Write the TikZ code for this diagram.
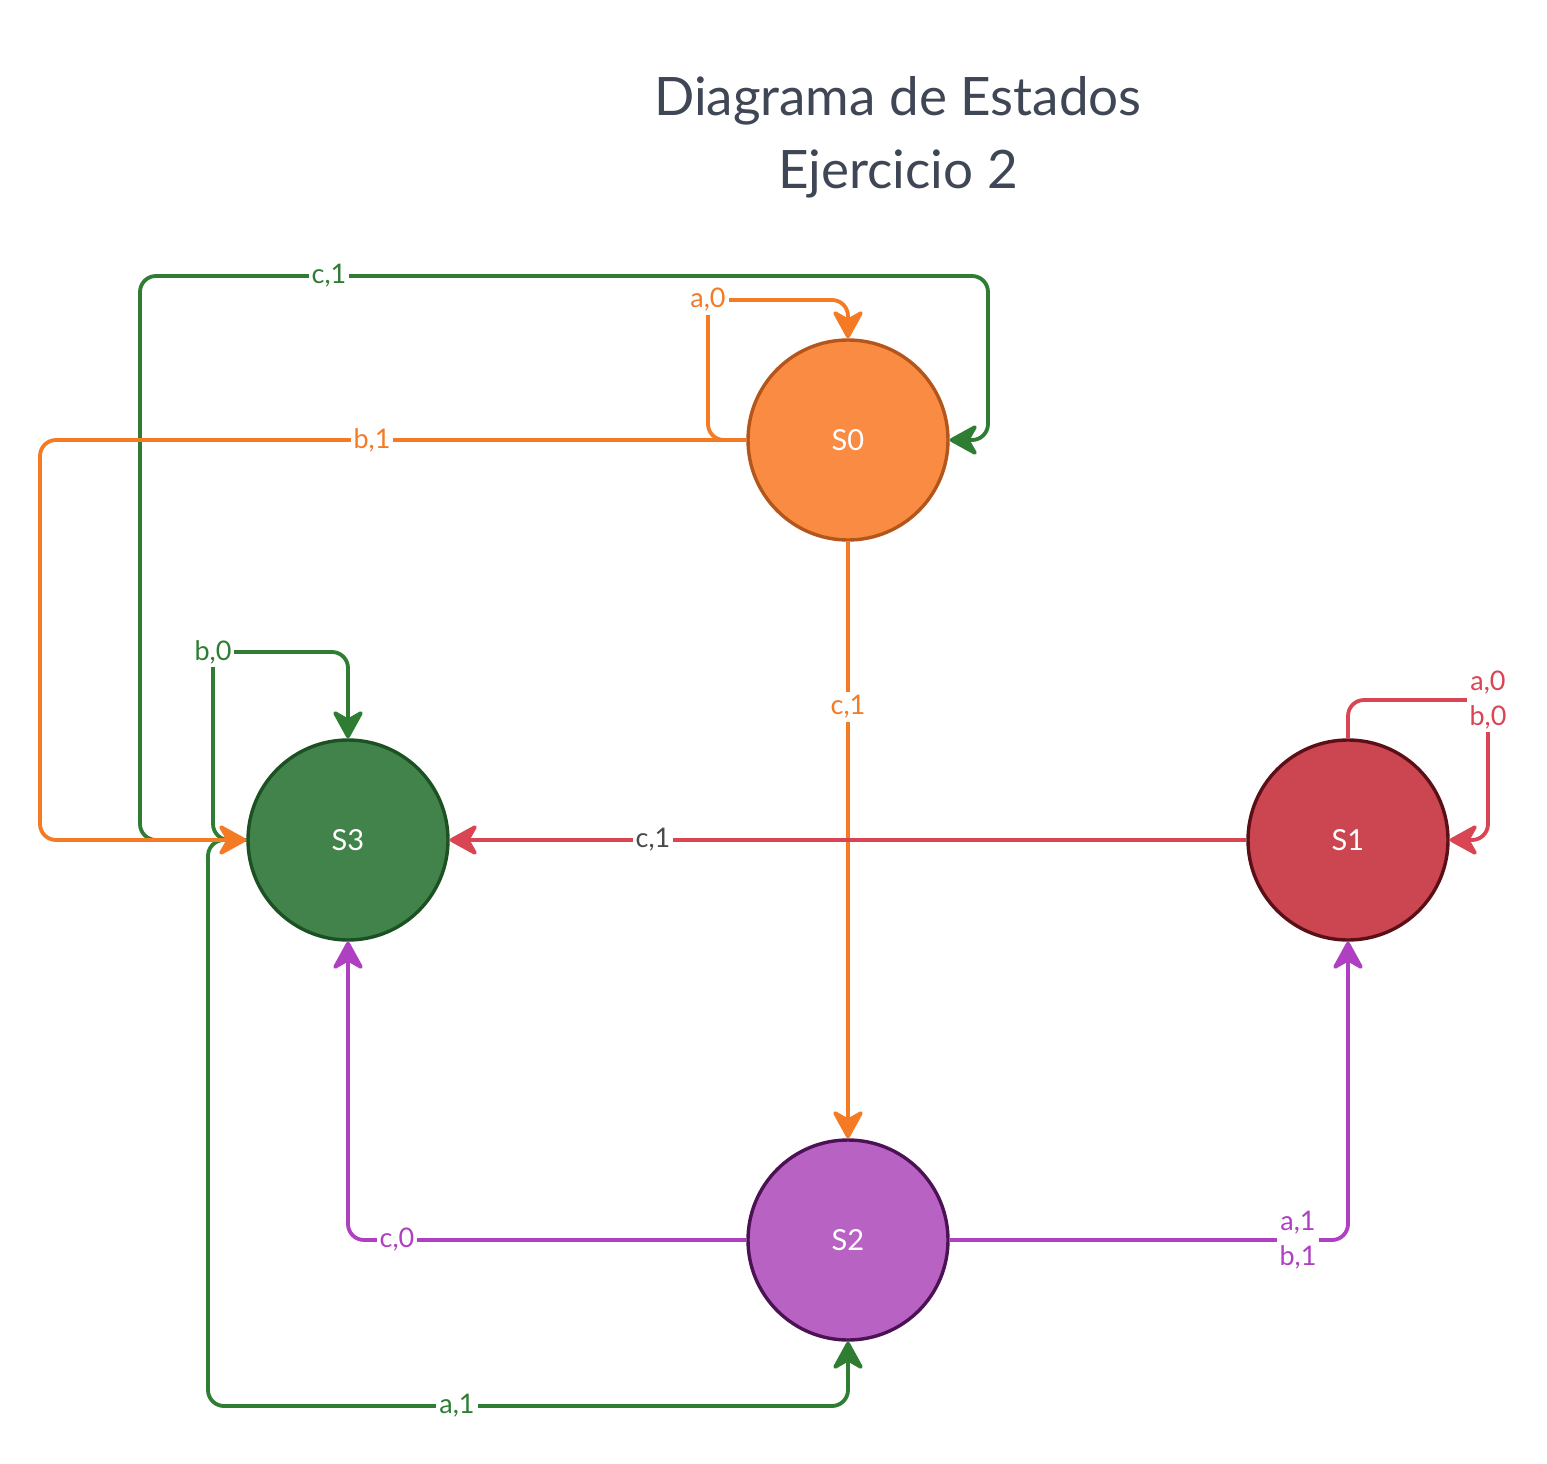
\documentclass[tikz,border=0pt]{standalone}
\usepackage{fontspec}
\setmainfont{Lato}
\usetikzlibrary{arrows.meta}
\definecolor{oline}{HTML}{F57A24}
\definecolor{ofill}{HTML}{F98B42}
\definecolor{odraw}{HTML}{B4561B}
\definecolor{gline}{HTML}{2E7D32}
\definecolor{gfill}{HTML}{42834B}
\definecolor{gdraw}{HTML}{1C5123}
\definecolor{rline}{HTML}{DA4553}
\definecolor{rfill}{HTML}{CB4650}
\definecolor{rdraw}{HTML}{5B1017}
\definecolor{pline}{HTML}{B040C2}
\definecolor{pfill}{HTML}{B862C4}
\definecolor{pdraw}{HTML}{4C1354}
\definecolor{titlec}{HTML}{3F4756}
\definecolor{graytxt}{HTML}{4A4A4A}
\begin{document}
\begin{tikzpicture}[x=1pt,y=-1pt,
  state/.style={circle, minimum size=200pt, inner sep=0pt, line width=3.4pt, text=white, font=\fontsize{29}{34}\selectfont},
  conn/.style={line width=3.8pt, rounded corners=16pt, -{Stealth[length=32pt,width=35pt,inset=10pt,line join=round]}},
  lbl/.style={fill=white, inner sep=3pt, font=\fontsize{27}{35}\selectfont, align=center}
]
\useasboundingbox (0,0) rectangle (1547,1464);
\fill[white] (0,0) rectangle (1547,1464);

\node[titlec, font=\fontsize{53}{73}\selectfont, align=center] (title) at (898,137) {Diagrama de Estados\\Ejercicio 2};

\node[state, fill=ofill, draw=odraw] (s0) at (848,440) {S0};
\node[state, fill=gfill, draw=gdraw] (s3) at (348,840) {S3};
\node[state, fill=rfill, draw=rdraw] (s1) at (1348,840) {S1};
\node[state, fill=pfill, draw=pdraw] (s2) at (848,1240) {S2};

% green connectors
\draw[conn, gline] (s3.west) -| (140,276) -| (988,440) -- (s0.east);
\node[lbl, text=gline] (l1) at (329,276) {c,1};
\draw[conn, gline] (s3.west) -| (213,652) -| (s3.north);
\node[lbl, text=gline] (l2) at (213,652) {b,0};
\draw[conn, gline] (s3.west) -| (208,1406) -| (s2.south);
\node[lbl, text=gline] (l3) at (457,1406) {a,1};

% orange connectors
\draw[conn, oline] (s0.west) -| (708,300) -| (s0.north);
\node[lbl, text=oline] (l4) at (708,300) {a,0};
\draw[conn, oline] (s0.west) -| (40,840) -- (s3.west);
\node[lbl, text=oline] (l5) at (372,440) {b,1};
\draw[conn, oline] (s0.south) -- (s2.north);
\node[lbl, text=oline] (l6) at (848,707) {c,1};

% red connectors
\draw[conn, rline] (s1.west) -- (s3.east);
\node[lbl, text=graytxt] (l7) at (653,840) {c,1};
\draw[conn, rline] (s1.north) |- (1488,700) |- (s1.east);
\node[lbl, text=rline] (l8) at (1488,700) {a,0\\b,0};

% purple connectors
\draw[conn, pline] (s2.west) -| (s3.south);
\node[lbl, text=pline] (l9) at (397,1240) {c,0};
\draw[conn, pline] (s2.east) -| (s1.south);
\node[lbl, text=pline] (l10) at (1298,1240) {a,1\\b,1};
\end{tikzpicture}
\end{document}
